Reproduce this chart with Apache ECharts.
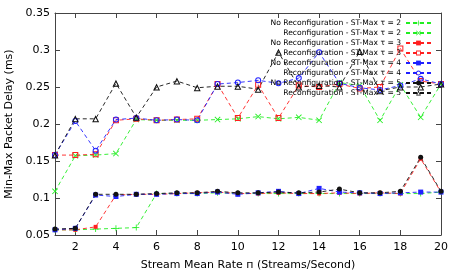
<!DOCTYPE html>
<html><head><meta charset="utf-8">
<script src="https://cdn.jsdelivr.net/npm/echarts@6/dist/echarts.min.js"></script>
<style>html,body{margin:0;padding:0;background:#fff}#c{width:457px;height:274px}</style>
</head><body><div id="c"></div>
<script>
const rates = [1,2,3,4,5,6,7,8,9,10,11,12,13,14,15,16,17,18,19,20];
const xTicks = [2,4,6,8,10,12,14,16,18,20];
const names = [
  'No Reconfiguration - ST-Max τ = 2',
  'Reconfiguration - ST-Max τ = 2',
  'No Reconfiguration - ST-Max τ = 3',
  'Reconfiguration - ST-Max τ = 3',
  'No Reconfiguration - ST-Max τ = 4',
  'Reconfiguration - ST-Max τ = 4',
  'No Reconfiguration - ST-Max τ = 5',
  'Reconfiguration - ST-Max τ = 5'
];
const noReconf2 = [0.057,0.057,0.058,0.059,0.060,0.106,0.106,0.106,0.107,0.106,0.106,0.106,0.106,0.106,0.106,0.106,0.106,0.106,0.106,0.108];
const reconf2   = [0.109,0.157,0.158,0.160,0.206,0.205,0.205,0.205,0.206,0.207,0.210,0.207,0.209,0.205,0.256,0.252,0.205,0.253,0.209,0.254];
const noReconf3 = [0.057,0.057,0.061,0.104,0.105,0.105,0.106,0.107,0.108,0.106,0.106,0.107,0.106,0.106,0.107,0.106,0.107,0.106,0.153,0.108];
const reconf3   = [0.158,0.158,0.159,0.205,0.207,0.205,0.206,0.207,0.254,0.208,0.253,0.208,0.252,0.250,0.254,0.248,0.250,0.302,0.258,0.254];
const noReconf4 = [0.057,0.059,0.104,0.102,0.105,0.105,0.106,0.106,0.108,0.105,0.107,0.109,0.106,0.113,0.108,0.107,0.106,0.107,0.108,0.108];
const reconf4   = [0.158,0.204,0.164,0.206,0.208,0.205,0.206,0.205,0.254,0.256,0.259,0.255,0.262,0.297,0.255,0.249,0.246,0.252,0.261,0.254];
const noReconf5 = [0.058,0.059,0.105,0.105,0.105,0.106,0.107,0.107,0.109,0.107,0.107,0.108,0.107,0.108,0.112,0.107,0.107,0.109,0.155,0.109];
const reconf5   = [0.158,0.207,0.207,0.255,0.209,0.250,0.258,0.249,0.251,0.251,0.247,0.297,0.250,0.252,0.250,0.298,0.245,0.250,0.250,0.254];

const values = [noReconf2, reconf2, noReconf3, reconf3, noReconf4, reconf4, noReconf5, reconf5];
const colors = ['#22ee22','#22ee22','#ff2020','#ff2020','#2020ff','#2020ff','#111111','#111111'];

const PLUS = 'path://M4.3,0L5.7,0L5.7,4.3L10,4.3L10,5.7L5.7,5.7L5.7,10L4.3,10L4.3,5.7L0,5.7L0,4.3L4.3,4.3Z';
const CROSS = 'path://M0,1L1,0L10,9L9,10Z M9,0L10,1L1,10L0,9Z';
const OSQUARE = 'path://M0,0L10,0L10,10L0,10Z M1.7,1.7L1.7,8.3L8.3,8.3L8.3,1.7Z';
const OCIRCLE = 'path://M0,5A5,5,0,1,1,10,5A5,5,0,1,1,0,5Z M1.7,5A3.3,3.3,0,1,0,8.3,5A3.3,3.3,0,1,0,1.7,5Z';
const OTRI = 'path://M5,0L10,9L0,9Z M5,3.2L2.3,7.7L7.7,7.7Z';
const symbols = [PLUS, CROSS, 'rect', OSQUARE, 'rect', OCIRCLE, 'circle', OTRI];
const sizes = [6,6,4,6,5,6,5,7];

const font = 'DejaVu Sans';
const series = values.map((v, i) => ({
  name: names[i],
  type: 'line',
  data: rates.map((r, j) => [r, v[j]]),
  symbol: symbols[i],
  symbolSize: sizes[i],
  showAllSymbol: true,
  color: colors[i],
  lineStyle: {color: colors[i], width: 0.9, type: [4, 3]},
  itemStyle: {color: colors[i], borderWidth: 0},
  emphasis: {disabled: true, scale: false},
  animation: false
}));

const chart = echarts.init(document.getElementById('c'), null, {renderer: 'canvas'});
const axisLineStyle = {color: '#444', width: 1};
chart.setOption({
  animation: false,
  backgroundColor: '#fff',
  textStyle: {fontFamily: font},
  grid: {left: 55, top: 13, width: 386, height: 222, containLabel: false, outerBoundsMode: 'none'},
  legend: {
    data: names,
    orient: 'vertical',
    right: 25,
    top: 18,
    align: 'right',
    itemWidth: 25,
    itemHeight: 6,
    itemGap: 0,
    itemStyle: {borderWidth: 0},
    textStyle: {fontFamily: font, fontSize: 7.6, color: '#000', lineHeight: 10, padding: [0, 0, 0, 0]},
    padding: 0,
    selectedMode: false
  },
  xAxis: [{
    type: 'value', min: 1, max: 20, position: 'bottom',
    name: 'Stream Mean Rate п (Streams/Second)',
    nameLocation: 'middle', nameGap: 25,
    nameTextStyle: {fontFamily: font, fontSize: 11, color: '#000'},
    axisLine: {show: true, lineStyle: axisLineStyle},
    axisTick: {show: true, inside: true, length: 5, customValues: xTicks, lineStyle: axisLineStyle},
    axisLabel: {customValues: xTicks, fontFamily: font, fontSize: 11, color: '#000', margin: 7},
    splitLine: {show: false}
  }, {
    type: 'value', min: 1, max: 20, position: 'top',
    axisLine: {show: true, lineStyle: axisLineStyle},
    axisTick: {show: true, inside: true, length: 5, customValues: xTicks, lineStyle: axisLineStyle},
    axisLabel: {show: false},
    splitLine: {show: false}
  }],
  yAxis: [{
    type: 'value', min: 0.05, max: 0.35, interval: 0.05, position: 'left',
    name: 'Min-Max Packet Delay (ms)',
    nameLocation: 'middle', nameGap: 38, nameRotate: 90,
    nameTextStyle: {fontFamily: font, fontSize: 11, color: '#000'},
    axisLine: {show: true, lineStyle: axisLineStyle},
    axisTick: {show: true, inside: true, length: 5, lineStyle: axisLineStyle},
    axisLabel: {fontFamily: font, fontSize: 11, color: '#000', margin: 5,
      formatter: v => String(parseFloat(v.toFixed(2)))},
    splitLine: {show: false}
  }, {
    type: 'value', min: 0.05, max: 0.35, interval: 0.05, position: 'right',
    axisLine: {show: true, lineStyle: axisLineStyle},
    axisTick: {show: true, inside: true, length: 5, lineStyle: axisLineStyle},
    axisLabel: {show: false},
    splitLine: {show: false}
  }],
  series: series
});
</script>
</body></html>
